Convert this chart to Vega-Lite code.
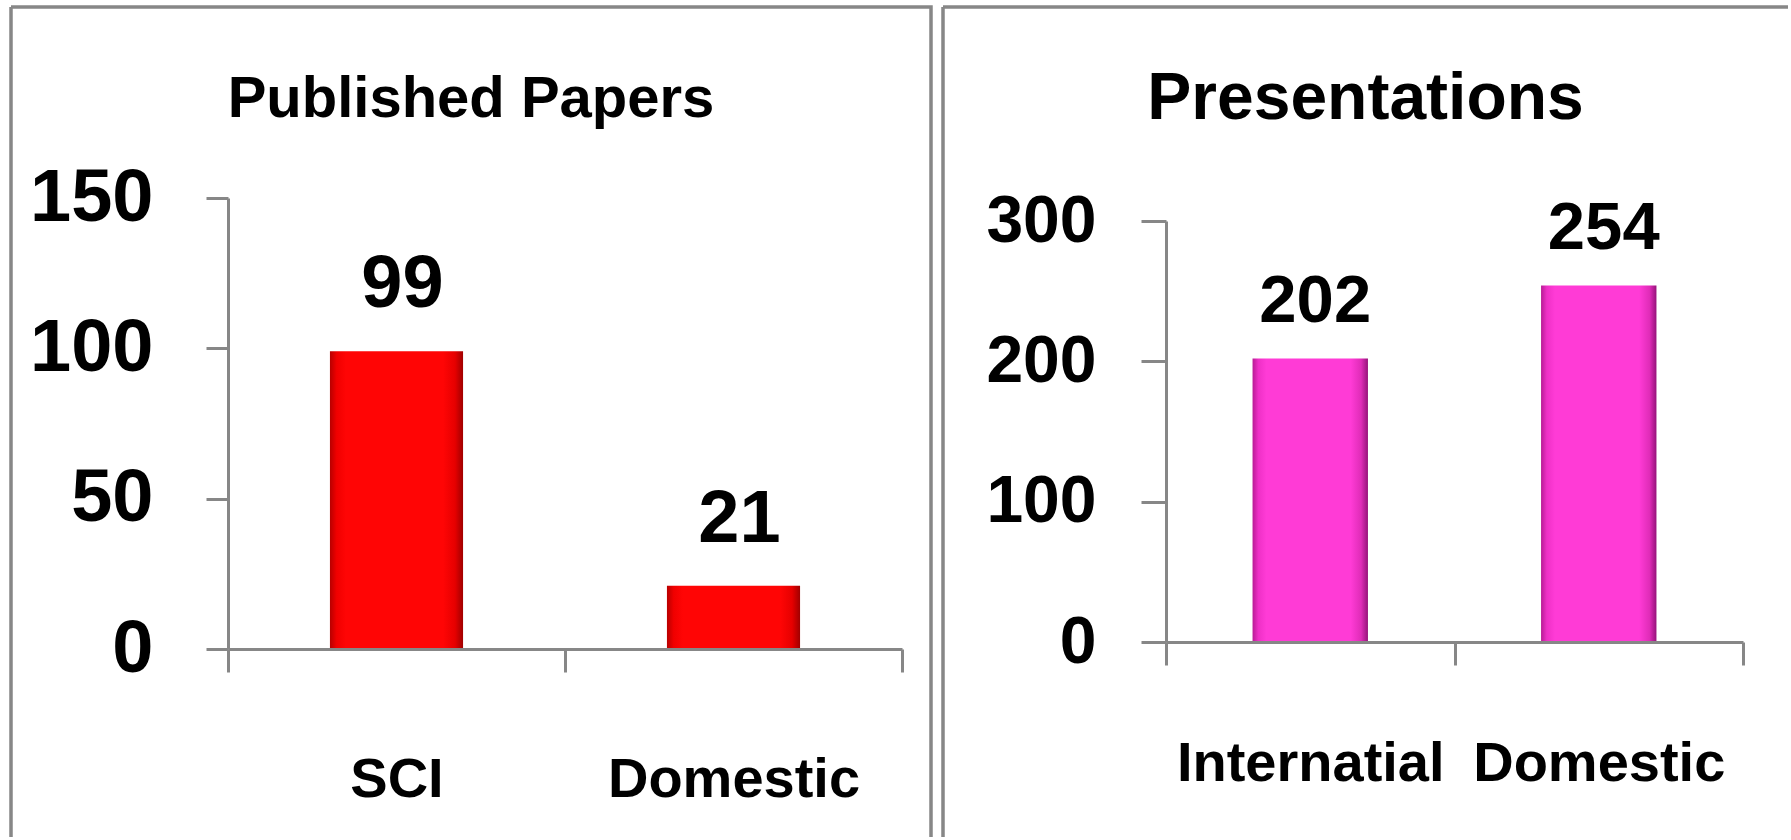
{
  "$schema": "https://vega.github.io/schema/vega-lite/v6.json",
  "background": "white",
  "padding": {"left": 9, "top": 5, "right": 0, "bottom": 0},
  "spacing": 8,
  "config": {
    "font": "Liberation Sans, Arial, sans-serif"
  },
  "datasets": {
    "papers": [
      {"type": "SCI", "count": 99},
      {"type": "Domestic", "count": 21}
    ],
    "presentations": [
      {"type": "Internatial", "count": 202},
      {"type": "Domestic", "count": 254}
    ]
  },
  "hconcat": [
    {
      "width": 920,
      "height": 830,
      "view": {"stroke": "#878787", "strokeWidth": 3.5, "strokeDash": [1750, 920, 830, 0]},
      "title": {"text": "Published Papers", "fontSize": 58, "fontWeight": "bold", "color": "black", "baseline": "alphabetic", "anchor": "middle", "frame": "group", "offset": -168},
      "data": {"name": "papers"},
      "encoding": {
        "x": {
          "field": "type", "type": "nominal", "sort": null,
          "scale": {"range": [217, 891], "paddingInner": 0, "paddingOuter": 0},
          "axis": {"offset": -188, "title": null, "labelAngle": 0, "tickBand": "extent", "zindex": 1, "labelLimit": 0,
            "domainColor": "#878787", "domainWidth": 3, "tickColor": "#878787", "tickWidth": 3, "tickSize": 23,
            "labelPadding": 124, "labelBaseline": "alphabetic", "labelFontSize": 56, "labelFontWeight": "bold", "labelColor": "black"}
        },
        "y": {
          "field": "count", "type": "quantitative",
          "scale": {"domain": [0, 150], "range": [642, 191], "nice": false},
          "axis": {"values": [0, 50, 100, 150], "offset": -217, "title": null, "grid": false, "zindex": 1,
            "domainColor": "#878787", "domainWidth": 3, "tickColor": "#878787", "tickWidth": 3, "tickSize": 22,
            "labelPadding": 53, "labelFontSize": 74, "labelFontWeight": "bold", "labelColor": "black", "labelOverlap": false}
        }
      },
      "layer": [
        {
          "mark": {
            "type": "bar", "width": {"band": 0.395},
            "fill": {"gradient": "linear", "x1": 0, "y1": 0, "x2": 1, "y2": 0,
              "stops": [
                {"offset": 0, "color": "#b80000"},
                {"offset": 0.05, "color": "#f00000"},
                {"offset": 0.12, "color": "#ff0505"},
                {"offset": 0.85, "color": "#ff0505"},
                {"offset": 0.94, "color": "#e60000"},
                {"offset": 1, "color": "#a00000"}
              ]}
          }
        },
        {
          "mark": {"type": "text", "baseline": "alphabetic", "dy": -44, "dx": 6, "fontSize": 74, "fontWeight": "bold", "color": "black"},
          "encoding": {"text": {"field": "count", "type": "quantitative", "format": "d"}}
        }
      ]
    },
    {
      "width": 845,
      "height": 830,
      "view": {"stroke": "#878787", "strokeWidth": 3.5, "strokeDash": [845, 1675, 830, 0]},
      "title": {"text": "Presentations", "fontSize": 66, "fontWeight": "bold", "color": "black", "baseline": "alphabetic", "anchor": "middle", "frame": "group", "offset": -178},
      "data": {"name": "presentations"},
      "encoding": {
        "x": {
          "field": "type", "type": "nominal", "sort": null,
          "scale": {"range": [223, 800], "paddingInner": 0, "paddingOuter": 0},
          "axis": {"offset": -195, "title": null, "labelAngle": 0, "tickBand": "extent", "zindex": 1, "labelLimit": 0,
            "domainColor": "#878787", "domainWidth": 3, "tickColor": "#878787", "tickWidth": 3, "tickSize": 23,
            "labelPadding": 115, "labelBaseline": "alphabetic", "labelFontSize": 56, "labelFontWeight": "bold", "labelColor": "black"}
        },
        "y": {
          "field": "count", "type": "quantitative",
          "scale": {"domain": [0, 300], "range": [635, 214], "nice": false},
          "axis": {"values": [0, 100, 200, 300], "offset": -223, "title": null, "grid": false, "zindex": 1,
            "domainColor": "#878787", "domainWidth": 3, "tickColor": "#878787", "tickWidth": 3, "tickSize": 25,
            "labelPadding": 45, "labelFontSize": 66, "labelFontWeight": "bold", "labelColor": "black", "labelOverlap": false}
        }
      },
      "layer": [
        {
          "mark": {
            "type": "bar", "width": {"band": 0.4},
            "fill": {"gradient": "linear", "x1": 0, "y1": 0, "x2": 1, "y2": 0,
              "stops": [
                {"offset": 0, "color": "#b81c95"},
                {"offset": 0.05, "color": "#ee30c6"},
                {"offset": 0.12, "color": "#ff3bd6"},
                {"offset": 0.85, "color": "#ff3bd6"},
                {"offset": 0.94, "color": "#e02cb8"},
                {"offset": 1, "color": "#96137a"}
              ]}
          }
        },
        {
          "mark": {"type": "text", "baseline": "alphabetic", "dy": -37, "dx": 5, "fontSize": 67, "fontWeight": "bold", "color": "black"},
          "encoding": {"text": {"field": "count", "type": "quantitative", "format": "d"}}
        }
      ]
    }
  ]
}
